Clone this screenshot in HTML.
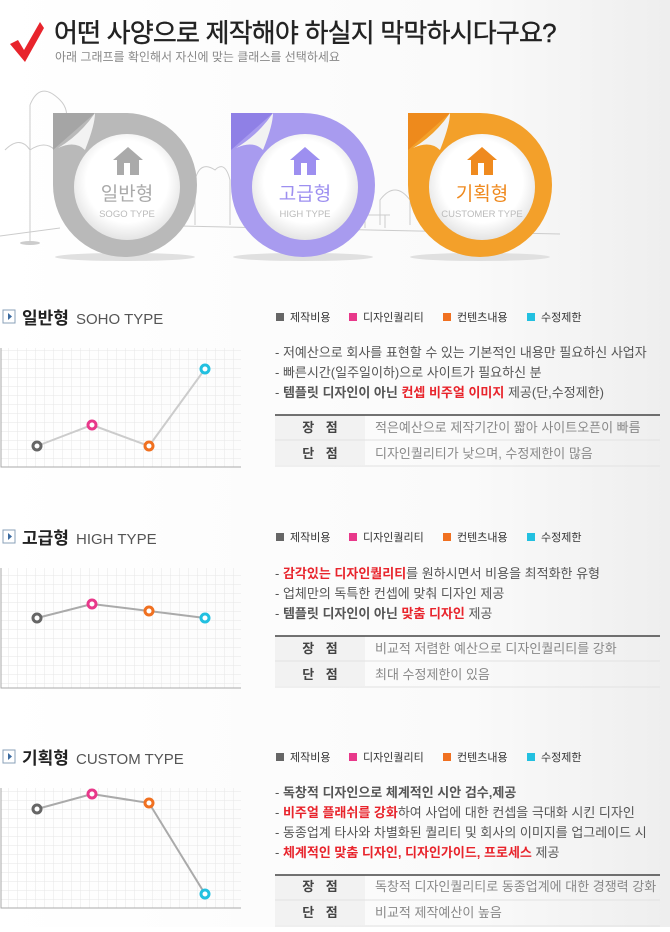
<!DOCTYPE html>
<html><head><meta charset="utf-8">
<style>
html,body{margin:0;padding:0;}
body{width:670px;height:927px;overflow:hidden;background:#fff;font-family:"Liberation Sans","Noto Sans CJK KR",sans-serif;}
text{font-family:"Liberation Sans","Noto Sans CJK KR",sans-serif;}
</style></head><body>
<svg width="670" height="927" viewBox="0 0 670 927" xmlns="http://www.w3.org/2000/svg">
<defs>
<linearGradient id="bg" x1="0" y1="0" x2="1" y2="0">
<stop offset="0" stop-color="#fff"/><stop offset="0.7" stop-color="#fafafa"/><stop offset="1" stop-color="#eeeeee"/>
</linearGradient>
<pattern id="grid" width="9" height="9" patternUnits="userSpaceOnUse">
<path d="M9 0V9M0 9H9" stroke="#e6e6e6" stroke-width="1" fill="none"/>
</pattern>
<radialGradient id="inner" cx="0.5" cy="0.45" r="0.55">
<stop offset="0.7" stop-color="#fff"/><stop offset="1" stop-color="#e4e4e4"/>
</radialGradient>
</defs>
<rect width="670" height="927" fill="url(#bg)"/>
<!-- header -->
<path d="M10 44 L18 40 L24 50 L40 22 L44 28 L25 62 Z" fill="#e8242c"/>
<text x="54" y="42" font-size="26" fill="#222" letter-spacing="-0.8" stroke="#222" stroke-width="0.4">어떤 사양으로 제작해야 하실지 막막하시다구요?</text>
<text x="55" y="61" font-size="12" fill="#888">아래 그래프를 확인해서 자신에 맞는 클래스를 선택하세요</text>
<!-- background line art -->
<g stroke="#ccc" fill="none" stroke-width="1">
<path d="M0 236 L60 228 M180 226 L560 234"/>
<line x1="30" y1="105" x2="30" y2="242"/>
<path d="M30 105 Q40 80 60 100 Q70 110 65 125"/>
<path d="M5 150 Q20 135 30 150 M30 150 Q45 140 55 150"/>
<path d="M195 225 V180 Q200 160 215 170 Q225 160 230 180 V225"/>
<path d="M380 225 V200 Q395 180 410 200 V225"/>
<path d="M360 215 H390 M365 215 V228 M385 215 V228"/>
</g>
<ellipse cx="30" cy="243" rx="10" ry="2" fill="#ccc"/>
<!-- rings -->
<g>
<ellipse cx="125" cy="257" rx="70" ry="4" fill="#e0e0e0"/>
<path d="M53 113 H125 A72 72 0 1 1 53 185 Z" fill="#b9b9b9"/>
<circle cx="127" cy="187" r="53" fill="url(#inner)"/>
<path d="M53 113 H95 L53 150 Z" fill="#a5a5a5"/>
<path d="M95 113 Q80 135 58 148 Q75 140 85 150 Q95 125 95 113 Z" fill="#f2f2f2"/>
<path d="M128 147 l-15 13 h4 v15 h22 v-15 h4 z" fill="#aaa"/><rect x="124" y="163" width="6" height="12" fill="#fff"/>
<text x="127" y="200" font-size="19" fill="#aaa" text-anchor="middle">일반형</text>
<text x="127" y="217" font-size="9.5" fill="#bbb" text-anchor="middle">SOGO TYPE</text>
</g>
<g>
<ellipse cx="303" cy="257" rx="70" ry="4" fill="#e0e0e0"/>
<path d="M231 113 H303 A72 72 0 1 1 231 185 Z" fill="#a89bef"/>
<circle cx="305" cy="187" r="53" fill="url(#inner)"/>
<path d="M231 113 H273 L231 150 Z" fill="#8f80e6"/>
<path d="M273 113 Q258 135 236 148 Q253 140 263 150 Q273 125 273 113 Z" fill="#f2f2f2"/>
<path d="M305 147 l-15 13 h4 v15 h22 v-15 h4 z" fill="#9d8ff0"/><rect x="301" y="163" width="6" height="12" fill="#fff"/>
<text x="305" y="200" font-size="19" fill="#9d8ff0" text-anchor="middle">고급형</text>
<text x="305" y="217" font-size="9.5" fill="#bbb" text-anchor="middle">HIGH TYPE</text>
</g>
<g>
<ellipse cx="480" cy="257" rx="70" ry="4" fill="#e0e0e0"/>
<path d="M408 113 H480 A72 72 0 1 1 408 185 Z" fill="#f3a02a"/>
<circle cx="482" cy="187" r="53" fill="url(#inner)"/>
<path d="M408 113 H450 L408 150 Z" fill="#ee8a1c"/>
<path d="M450 113 Q435 135 413 148 Q430 140 440 150 Q450 125 450 113 Z" fill="#f2f2f2"/>
<path d="M482 147 l-15 13 h4 v15 h22 v-15 h4 z" fill="#ef8a1f"/><rect x="478" y="163" width="6" height="12" fill="#fff"/>
<text x="482" y="200" font-size="19" fill="#ef8a1f" text-anchor="middle">기획형</text>
<text x="482" y="217" font-size="9.5" fill="#bbb" text-anchor="middle">CUSTOMER TYPE</text>
</g>

<!-- Sections -->
<g>
<rect x="3" y="310" width="12" height="13" fill="#fff" stroke="#8aa0b8"/><path d="M8 313 l4 3.5 l-4 3.5z" fill="#3b6aa0"/>
<text x="22" y="324" font-size="17" font-weight="bold" fill="#222">일반형</text>
<text x="76" y="324" font-size="15" fill="#555">SOHO TYPE</text>
</g>
<g transform="translate(0,220)">
<rect x="3" y="310" width="12" height="13" fill="#fff" stroke="#8aa0b8"/><path d="M8 313 l4 3.5 l-4 3.5z" fill="#3b6aa0"/>
<text x="22" y="324" font-size="17" font-weight="bold" fill="#222">고급형</text>
<text x="76" y="324" font-size="15" fill="#555">HIGH TYPE</text>
</g>
<g transform="translate(0,440)">
<rect x="3" y="310" width="12" height="13" fill="#fff" stroke="#8aa0b8"/><path d="M8 313 l4 3.5 l-4 3.5z" fill="#3b6aa0"/>
<text x="22" y="324" font-size="17" font-weight="bold" fill="#222">기획형</text>
<text x="76" y="324" font-size="15" fill="#555">CUSTOM TYPE</text>
</g>

<!-- legends -->
<g id="leg" font-size="11" fill="#333">
<rect x="276" y="313" width="8" height="8" fill="#666"/><text x="290" y="321">제작비용</text>
<rect x="349" y="313" width="8" height="8" fill="#e8388a"/><text x="363" y="321">디자인퀄리티</text>
<rect x="443" y="313" width="8" height="8" fill="#f07020"/><text x="457" y="321">컨텐츠내용</text>
<rect x="527" y="313" width="8" height="8" fill="#22c0e0"/><text x="541" y="321">수정제한</text>
</g>
<use href="#leg" transform="translate(0,220)"/>
<use href="#leg" transform="translate(0,440)"/>

<!-- charts -->
<g>
<rect x="1" y="348" width="240" height="119" fill="url(#grid)"/>
<path d="M1 348 V467 H241" stroke="#aaa" fill="none"/>
<polyline points="37,446 92,425 149,446 205,369" stroke="#ccc" stroke-width="2" fill="none"/>
<circle cx="37" cy="446" r="4" fill="#fff" stroke="#666" stroke-width="3"/>
<circle cx="92" cy="425" r="4" fill="#fff" stroke="#e8388a" stroke-width="3"/>
<circle cx="149" cy="446" r="4" fill="#fff" stroke="#f07020" stroke-width="3"/>
<circle cx="205" cy="369" r="4" fill="#fff" stroke="#22c0e0" stroke-width="3"/>
</g>
<g>
<rect x="1" y="568" width="240" height="120" fill="url(#grid)"/>
<path d="M1 568 V688 H241" stroke="#aaa" fill="none"/>
<polyline points="37,618 92,604 149,611 205,618" stroke="#aaa" stroke-width="2" fill="none"/>
<circle cx="37" cy="618" r="4" fill="#fff" stroke="#666" stroke-width="3"/>
<circle cx="92" cy="604" r="4" fill="#fff" stroke="#e8388a" stroke-width="3"/>
<circle cx="149" cy="611" r="4" fill="#fff" stroke="#f07020" stroke-width="3"/>
<circle cx="205" cy="618" r="4" fill="#fff" stroke="#22c0e0" stroke-width="3"/>
</g>
<g>
<rect x="1" y="788" width="240" height="120" fill="url(#grid)"/>
<path d="M1 788 V908 H241" stroke="#aaa" fill="none"/>
<polyline points="37,809 92,794 149,803 205,894" stroke="#aaa" stroke-width="2" fill="none"/>
<circle cx="37" cy="809" r="4" fill="#fff" stroke="#666" stroke-width="3"/>
<circle cx="92" cy="794" r="4" fill="#fff" stroke="#e8388a" stroke-width="3"/>
<circle cx="149" cy="803" r="4" fill="#fff" stroke="#f07020" stroke-width="3"/>
<circle cx="205" cy="894" r="4" fill="#fff" stroke="#22c0e0" stroke-width="3"/>
</g>

<!-- text blocks -->
<g font-size="13" fill="#555">
<text x="275" y="357">- 저예산으로 회사를 표현할 수 있는 기본적인 내용만 필요하신 사업자</text>
<text x="275" y="377">- 빠른시간(일주일이하)으로 사이트가 필요하신 분</text>
<text x="275" y="397">- <tspan font-weight="bold">템플릿 디자인이 아닌 </tspan><tspan font-weight="bold" fill="#e8242c">컨셉 비주얼 이미지</tspan> 제공(단,수정제한)</text>

<text x="275" y="578">- <tspan font-weight="bold" fill="#e8242c">감각있는 디자인퀄리티</tspan>를 원하시면서 비용을 최적화한 유형</text>
<text x="275" y="598">- 업체만의 독특한 컨셉에 맞춰 디자인 제공</text>
<text x="275" y="618">- <tspan font-weight="bold">템플릿 디자인이 아닌 </tspan><tspan font-weight="bold" fill="#e8242c">맞춤 디자인</tspan> 제공</text>

<text x="275" y="797">- <tspan font-weight="bold">독창적 디자인으로 체계적인 시안 검수,제공</tspan></text>
<text x="275" y="817">- <tspan font-weight="bold" fill="#e8242c">비주얼 플래쉬를 강화</tspan>하여 사업에 대한 컨셉을 극대화 시킨 디자인</text>
<text x="275" y="837">- 동종업계 타사와 차별화된 퀄리티 및 회사의 이미지를 업그레이드 시</text>
<text x="275" y="857">- <tspan font-weight="bold" fill="#e8242c">체계적인 맞춤 디자인, 디자인가이드, 프로세스</tspan> 제공</text>
</g>

<!-- tables -->
<g id="tb1">
<rect x="275" y="415" width="90" height="50" fill="#f2f2f2"/>
<line x1="275" y1="415" x2="660" y2="415" stroke="#444" stroke-width="1.5"/>
<line x1="275" y1="440" x2="660" y2="440" stroke="#e2e2e2"/>
<line x1="275" y1="466" x2="660" y2="466" stroke="#e2e2e2"/>
</g>
<use href="#tb1" transform="translate(0,221)"/>
<use href="#tb1" transform="translate(0,460)"/>
<g font-size="13">
<g font-weight="bold" fill="#444" text-anchor="middle">
<text x="320" y="432">장 <tspan dx="8">점</tspan></text>
<text x="320" y="458">단 <tspan dx="8">점</tspan></text>
<text x="320" y="653">장 <tspan dx="8">점</tspan></text>
<text x="320" y="679">단 <tspan dx="8">점</tspan></text>
<text x="320" y="891">장 <tspan dx="8">점</tspan></text>
<text x="320" y="917">단 <tspan dx="8">점</tspan></text>
</g>
<g fill="#888">
<text x="375" y="432">적은예산으로 제작기간이 짧아 사이트오픈이 빠름</text>
<text x="375" y="458">디자인퀄리티가 낮으며, 수정제한이 많음</text>
<text x="375" y="653">비교적 저렴한 예산으로 디자인퀄리티를 강화</text>
<text x="375" y="679">최대 수정제한이 있음</text>
<text x="375" y="891">독창적 디자인퀄리티로 동종업계에 대한 경쟁력 강화</text>
<text x="375" y="917">비교적 제작예산이 높음</text>
</g>
</g>
</svg>
</body></html>
